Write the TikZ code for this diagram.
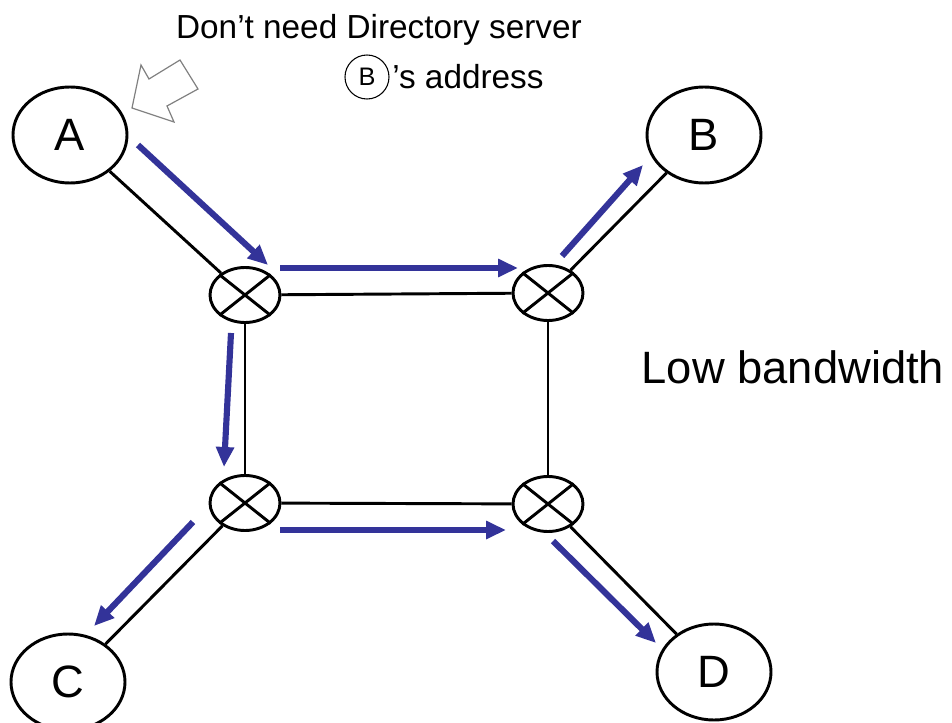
\documentclass[tikz,border=0pt]{standalone}
\usepackage{fontspec}
\setmainfont{Liberation Sans}
\usetikzlibrary{shapes.geometric,arrows.meta,calc}
\definecolor{flowblue}{RGB}{51,51,153}
\definecolor{hintgray}{RGB}{128,128,128}
\tikzset{
  host/.style={ellipse,draw=black,line width=2.2pt,minimum width=114pt*0.75,minimum height=96pt*0.75,inner sep=0pt,font=\fontsize{34}{36}\selectfont},
  router/.style={ellipse,draw=black,line width=2.2pt,minimum width=70pt*0.75,minimum height=55pt*0.75,inner sep=0pt},
  link/.style={line width=2.2pt,black},
  flow/.style={line width=4.6pt,flowblue,-{Triangle[length=15pt,width=13pt]}},
}
\newcommand{\crossrouter}[2]{%
  \node[router] (#1) at #2 {};
  \draw[line width=2.2pt] (#1.north west) -- (#1.south east);
  \draw[line width=2.2pt] (#1.north east) -- (#1.south west);
}
\begin{document}
\begin{tikzpicture}[x=0.75pt,y=-0.75pt]
\useasboundingbox (0,0) rectangle (952,723);
% hosts
\node[host] (A) at (70,135) {A};
\node[host] (B) at (704,135) {B};
\node[host] (C) at (68,682) {C};
\node[host] (D) at (714,672) {D};
% routers
\crossrouter{TL}{(245,295)}
\crossrouter{TR}{(548,293)}
\crossrouter{BL}{(245,503)}
\crossrouter{BR}{(548,504)}
% links
\draw[link] (A) -- (TL);
\draw[link] (B) -- (TR);
\draw[link] (C) -- (BL);
\draw[link] (D) -- (BR);
\draw[link] (TL) -- (TR);
\draw[link] (TR) -- (BR);
\draw[link] (BR) -- (BL);
\draw[link] (BL) -- (TL);
% flow of packets
\coordinate (f1s) at (138,145); \coordinate (f1e) at (268,265);
\coordinate (f2s) at (280,268); \coordinate (f2e) at (518,268);
\coordinate (f3s) at (562,256); \coordinate (f3e) at (643,165);
\coordinate (f4s) at (231,333); \coordinate (f4e) at (224,467);
\coordinate (f5s) at (193,522); \coordinate (f5e) at (94,626);
\coordinate (f6s) at (280,530); \coordinate (f6e) at (506,530);
\coordinate (f7s) at (553,541); \coordinate (f7e) at (656,643);
\draw[flow] (f1s) -- (f1e);
\draw[flow] (f2s) -- (f2e);
\draw[flow] (f3s) -- (f3e);
\draw[flow] (f4s) -- (f4e);
\draw[flow] (f5s) -- (f5e);
\draw[flow] (f6s) -- (f6e);
\draw[flow] (f7s) -- (f7e);
% hollow pointer toward A
\draw[hintgray,line width=0.9pt,line join=miter]
  (132,108) -- (141,65) -- (149,79) -- (180,60) -- (198,89) -- (167,106) -- (174,122) -- cycle;
% annotations
\node[font=\fontsize{25}{27}\selectfont,inner sep=0pt] (note1) at (379,30) {Don’t need Directory server};
\node[circle,draw=black,line width=0.8pt,minimum size=44pt*0.75,inner sep=0pt,font=\fontsize{19}{20}\selectfont] (Bmark) at (367,77) {B};
\node[font=\fontsize{25}{27}\selectfont,inner sep=0pt,anchor=west] (note2) at (392,77) {’s address};
\node[font=\fontsize{34}{36}\selectfont,inner sep=0pt] (bw) at (793,367) {Low bandwidth};
\end{tikzpicture}
\end{document}
